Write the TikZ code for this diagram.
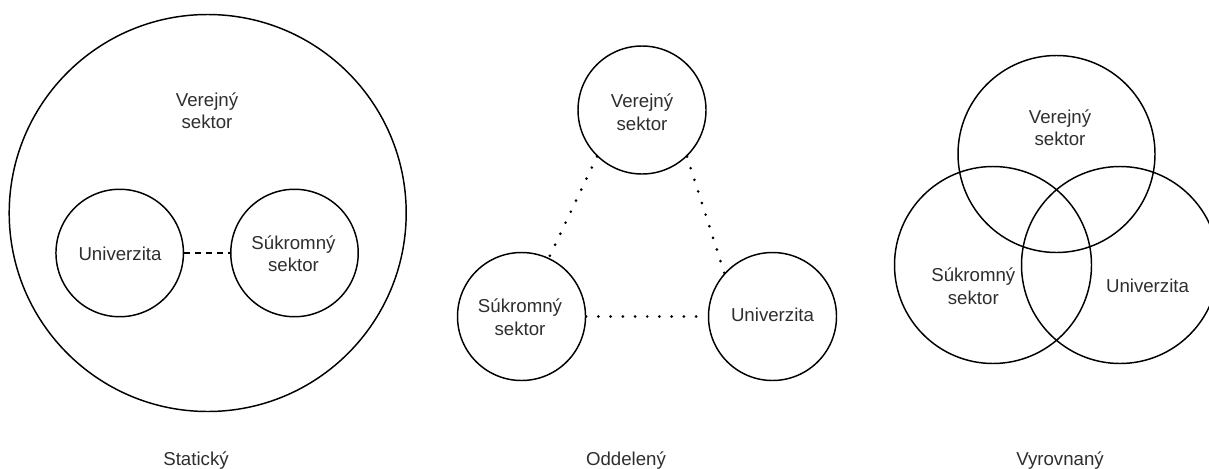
\documentclass[tikz,border=0pt]{standalone}
\usepackage{fontspec}
\setmainfont{Liberation Sans}
\begin{document}
\begin{tikzpicture}[x=0.75pt, y=-0.75pt,
  ring/.style={draw=black, line width=1.1pt, circle, inner sep=0pt, minimum size=#1},
  lbl/.style={text=black!82, font=\fontsize{14}{16.8}\selectfont, align=center, inner sep=0pt, anchor=base},
  dashlink/.style={draw=black, line width=0.9pt, dash pattern=on 4.5pt off 3.75pt},
  dotlink/.style={draw=black, line width=2.2pt, line cap=round, dash pattern=on 0pt off 9.15pt}]
\useasboundingbox (0,0) rectangle (1209,468);

% --- Statický: everything inside the public sector ---
% (two-line labels sit on the baseline of their last line)
\node[ring=297.75pt] (sVer) at (207.7,213) {};
\node[ring=95.6pt] (sUni) at (119.7,253) {};
\node[ring=95.6pt] (sSuk) at (294.5,253) {};
\draw[dashlink] (sUni.east) -- (sSuk.west);
\node[lbl] (sVerT) at (207,128.4) {Verejný\\sektor};
\node[lbl] (sUniT) at (120,260) {Univerzita};
\node[lbl] (sSukT) at (293.5,271.7) {Súkromný\\sektor};
\node[lbl] (sTitle) at (196,465.5) {Statický};

% --- Oddelený: three separate spheres ---
\node[ring=96pt] (oVer) at (642,110) {};
\node[ring=96pt] (oSuk) at (521.5,316.5) {};
\node[ring=96pt] (oUni) at (772.5,316.5) {};
\draw[dotlink] (oVer.-134) -- (oSuk.65);
\draw[dotlink] (oVer.-46) -- (oUni.138);
\draw[dotlink] (oSuk.east) -- (oUni.west);
\node[lbl] (oVerT) at (642,130.1) {Verejný\\sektor};
\node[lbl] (oSukT) at (520,335.1) {Súkromný\\sektor};
\node[lbl] (oUniT) at (772.5,321.7) {Univerzita};
\node[lbl] (oTitle) at (626,465.5) {Oddelený};

% --- Vyrovnaný: overlapping spheres ---
\node[ring=147.75pt] (vVer) at (1056.5,154) {};
\node[ring=147.75pt] (vSuk) at (993,265) {};
\node[ring=147.75pt] (vUni) at (1120,265) {};
\node[lbl] (vVerT) at (1060,145.7) {Verejný\\sektor};
\node[lbl] (vSukT) at (973.3,304.1) {Súkromný\\sektor};
\node[lbl] (vUniT) at (1147.5,292.3) {Univerzita};
\node[lbl] (vTitle) at (1060,465.5) {Vyrovnaný};
\end{tikzpicture}
\end{document}
